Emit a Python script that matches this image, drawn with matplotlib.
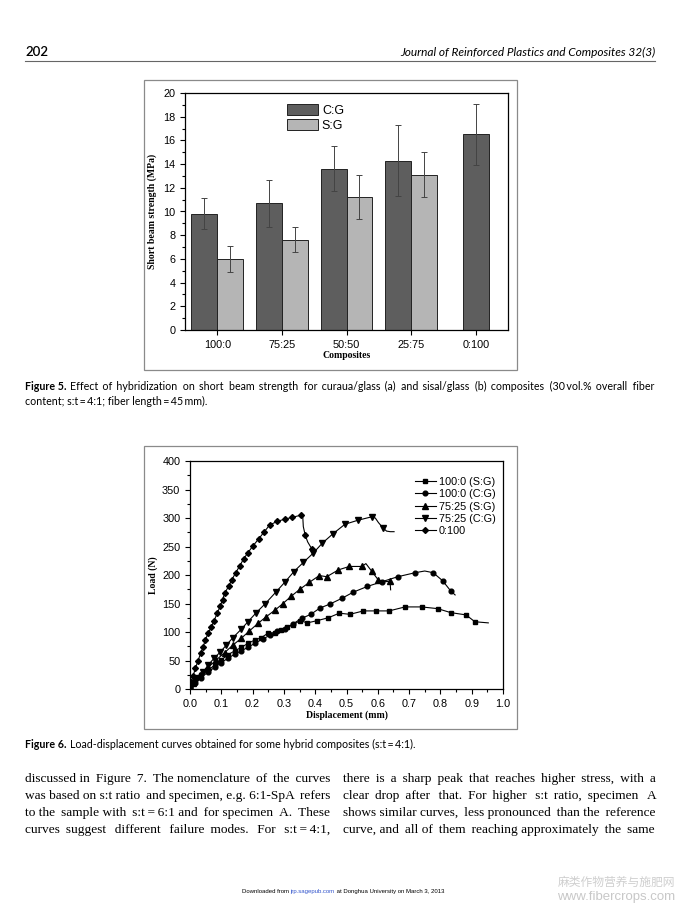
import matplotlib
matplotlib.use("Agg")
import matplotlib.pyplot as plt
from matplotlib.ticker import MultipleLocator
from matplotlib.patches import Rectangle

W, H = 678, 905

# Figure 5: short beam strength
composites = ["100:0", "75:25", "50:50", "25:75", "0:100"]
cg_strength = [9.8, 10.7, 13.6, 14.3, 16.5]
cg_err = [1.3, 2.0, 1.9, 3.0, 2.6]
sg_strength = [6.0, 7.6, 11.2, 13.1]
sg_err = [1.1, 1.05, 1.85, 1.9]

# Figure 6: load-displacement curves (mk = 1 where a marker is drawn)
sg100_x = [0, 0.015, 0.036, 0.058, 0.079, 0.1, 0.121, 0.143, 0.164, 0.185, 0.207, 0.228, 0.249, 0.27, 0.29,
           0.31, 0.328, 0.351, 0.375, 0.407, 0.442, 0.477, 0.511, 0.554, 0.594, 0.636, 0.687, 0.74, 0.791,
           0.833, 0.882, 0.91, 0.953]
sg100_y = [0, 15, 25, 33, 42, 51, 60, 67, 73, 80, 86, 90, 98, 99, 103, 108, 112, 120, 116, 120, 125, 133, 131,
           137, 137, 137, 144, 144, 141, 134, 130, 118, 116]
sg100_mk = [1] * 32 + [0]

cg100_x = [0, 0.015, 0.036, 0.058, 0.079, 0.1, 0.121, 0.143, 0.164, 0.185, 0.207, 0.233, 0.255, 0.279, 0.302,
           0.328, 0.357, 0.386, 0.415, 0.447, 0.485, 0.522, 0.567, 0.612, 0.664, 0.719, 0.75, 0.777, 0.807,
           0.833, 0.847]
cg100_y = [0, 10, 20, 30, 38, 46, 54, 61, 67, 73, 80, 88, 94, 101, 105, 114, 124, 131, 142, 149, 159, 170, 180,
           188, 197, 204, 207, 204, 190, 172, 165]
cg100_mk = [1] * 26 + [0, 1, 1, 1, 0]

sg75_x = [0, 0.01, 0.031, 0.058, 0.084, 0.111, 0.137, 0.164, 0.19, 0.217, 0.244, 0.273, 0.297, 0.324, 0.351,
          0.381, 0.413, 0.437, 0.474, 0.509, 0.549, 0.562, 0.58, 0.602, 0.618, 0.639, 0.641]
sg75_y = [0, 10, 25, 38, 51, 64, 77, 89, 102, 115, 127, 139, 150, 163, 175, 187, 199, 197, 209, 215, 215, 220,
          207, 191, 188, 189, 174]
sg75_mk = [1] * 21 + [0, 1, 1, 0, 1, 0]

cg75_x = [0, 0.023, 0.042, 0.058, 0.077, 0.097, 0.116, 0.137, 0.164, 0.185, 0.212, 0.241, 0.276, 0.304, 0.332,
          0.362, 0.393, 0.423, 0.456, 0.495, 0.536, 0.58, 0.592, 0.602, 0.616, 0.628, 0.64, 0.652]
cg75_y = [0, 19, 30, 42, 54, 65, 77, 90, 105, 118, 134, 150, 171, 188, 206, 222, 238, 256, 272, 289, 296, 302,
          300, 292, 283, 277, 276, 276]
cg75_mk = [1] * 22 + [0, 0, 1, 0, 0, 0]

gl_x = [0, 0.004, 0.01, 0.017, 0.026, 0.034, 0.042, 0.049, 0.058, 0.068, 0.077, 0.087, 0.097, 0.104, 0.111,
        0.124, 0.134, 0.146, 0.159, 0.171, 0.185, 0.201, 0.219, 0.236, 0.255, 0.279, 0.302, 0.326, 0.354,
        0.36, 0.362, 0.368, 0.376, 0.39, 0.395]
gl_y = [0, 13, 23, 36, 50, 63, 74, 86, 98, 109, 120, 133, 146, 157, 168, 181, 192, 204, 216, 228, 239, 251, 263,
        275, 288, 294, 298, 301, 305, 305, 285, 270, 258, 245, 240]
gl_mk = [1] * 29 + [0, 0, 1, 0, 1, 0]

curves = [
    ("100:0 (S:G)", sg100_x, sg100_y, sg100_mk, "s", 3.0),
    ("100:0 (C:G)", cg100_x, cg100_y, cg100_mk, "o", 3.4),
    ("75:25 (S:G)", sg75_x, sg75_y, sg75_mk, "^", 3.8),
    ("75:25 (C:G)", cg75_x, cg75_y, cg75_mk, "v", 3.8),
    ("0:100", gl_x, gl_y, gl_mk, "D", 3.0),
]

# "~" marks a thin space that must not be stretched
body_left = [
    "discussed in Figure 7. The nomenclature of the curves",
    "was based on s:t ratio and specimen, e.g. 6:1-SpA refers",
    "to the sample with s:t~=~6:1 and for specimen A. These",
    "curves suggest different failure modes. For s:t~=~4:1,",
]
body_right = [
    "there is a sharp peak that reaches higher stress, with a",
    "clear drop after that. For higher s:t ratio, specimen A",
    "shows similar curves, less pronounced than the reference",
    "curve, and all of them reaching approximately the same",
]

fig = plt.figure(figsize=(W / 100, H / 100), dpi=100)
fig.patch.set_facecolor("white")
renderer = fig.canvas.get_renderer()
THIN = "\u2009"


def fy(y):
    return 1 - y / H


def width(t):
    return t.get_window_extent(renderer).width


def line_text(line, x0, y, x1=None, **kw):
    # one Text per line; justified by padding the word gaps with thin spaces
    words = [w.replace("~", THIN) for w in line.split()]
    t = fig.text(x0 / W, fy(y), " ".join(words), va="baseline", **kw)
    if x1 is None or len(words) < 2:
        return t
    a = fig.text(0, 0, "x" + THIN * 10 + "x", **kw)
    b = fig.text(0, 0, "xx", **kw)
    thin_w = (width(a) - width(b)) / 10
    a.remove()
    b.remove()
    n = len(words) - 1
    k = max(0, round((x1 - x0 - width(t)) / thin_w))
    s = words[0]
    for i, w in enumerate(words[1:]):
        s += " " + THIN * ((i + 1) * k // n - i * k // n) + w
    t.set_text(s)
    return t


def caption(label, rest, x0, y, x1=None, **kw):
    b = fig.text(x0 / W, fy(y), label, va="baseline", fontweight="bold", **kw)
    line_text(rest, x0 + width(b) + 4, y, x1=x1, **kw)


sans = "Lato"
serif = "Liberation Serif"

# page header
fig.text(25 / W, fy(56), "202", fontsize=9.5, family=sans, fontweight="semibold", va="baseline")
fig.text(655 / W, fy(56), "Journal of Reinforced Plastics and Composites 32(3)", fontsize=8.6,
         family=sans, style="italic", ha="right", va="baseline")
fig.add_artist(plt.Line2D([25 / W, 655 / W], [fy(61), fy(61)], color="#666666", lw=0.8))

# frames around the two figures
for top, bottom in [(80, 370), (446, 729)]:
    fig.add_artist(Rectangle((144 / W, fy(bottom)), (517 - 144) / W, (bottom - top) / H,
                             fill=False, edgecolor="#8a8a8a", lw=0.9, transform=fig.transFigure))

# ---- Figure 5 ----
ax = fig.add_axes([185 / W, fy(330), (508 - 185) / W, (330 - 93) / H])
pos = list(range(1, len(composites) + 1))
cg_pos = [p - 0.2 if i < len(sg_strength) else p for i, p in enumerate(pos)]
sg_pos = [p + 0.2 for p in pos[:len(sg_strength)]]
ax.bar(cg_pos, cg_strength, 0.4, color="#5e5e5e", edgecolor="#222222", lw=0.7, label="C:G")
ax.bar(sg_pos, sg_strength, 0.4, color="#b5b5b5", edgecolor="#222222", lw=0.7, label="S:G")
ax.errorbar(cg_pos, cg_strength, yerr=cg_err, fmt="none", ecolor="#444444", elinewidth=0.7, capsize=2.5,
            capthick=0.7)
ax.errorbar(sg_pos, sg_strength, yerr=sg_err, fmt="none", ecolor="#444444", elinewidth=0.7, capsize=2.5,
            capthick=0.7)
ax.set_xlim(0.5, 5.5)
ax.set_ylim(0, 20)
ax.set_xticks(pos)
ax.set_xticklabels(composites)
ax.yaxis.set_major_locator(MultipleLocator(2))
ax.yaxis.set_minor_locator(MultipleLocator(1))
ax.tick_params(which="both", direction="out", labelsize=7.8, width=0.8)
ax.tick_params(which="major", length=3.5)
ax.tick_params(which="minor", length=2)
for lab in ax.get_xticklabels() + ax.get_yticklabels():
    lab.set_family("Liberation Sans")
ax.set_ylabel("Short beam strength (MPa)", family=serif, fontweight="bold", fontsize=7, labelpad=4)
ax.set_xlabel("Composites", family=serif, fontweight="bold", fontsize=7, labelpad=1)
for s in ax.spines.values():
    s.set_linewidth(0.9)
ax.legend(loc="upper left", bbox_to_anchor=(0.3, 0.975), frameon=False, handlelength=2.5,
          handleheight=1.0, labelspacing=0.15, handletextpad=0.3, borderaxespad=0,
          prop={"family": "Liberation Sans", "size": 9})

# Figure 5 caption
caption("Figure 5.", "Effect of hybridization on short beam strength for curaua/glass (a) and sisal/glass (b) "
        "composites (30~vol.% overall fiber", 25, 390, x1=655, family=sans, fontsize=7.7)
line_text("content; s:t~=~4:1; fiber length~=~45~mm).", 25, 405, family=sans, fontsize=7.7)

# ---- Figure 6 ----
ax2 = fig.add_axes([190 / W, fy(689), 313 / W, 228 / H])
for name, xs, ys, mk, marker, ms in curves:
    ax2.plot(xs, ys, color="black", lw=0.8, marker=marker, ms=ms,
             markevery=[i for i, m in enumerate(mk) if m], label=name)
ax2.set_xlim(0, 1.0)
ax2.set_ylim(0, 400)
ax2.xaxis.set_major_locator(MultipleLocator(0.1))
ax2.xaxis.set_minor_locator(MultipleLocator(0.05))
ax2.yaxis.set_major_locator(MultipleLocator(50))
ax2.yaxis.set_minor_locator(MultipleLocator(25))
ax2.tick_params(which="both", direction="out", labelsize=7.8, width=0.8)
ax2.tick_params(which="major", length=3.5)
ax2.tick_params(which="minor", length=2)
for lab in ax2.get_xticklabels() + ax2.get_yticklabels():
    lab.set_family("Liberation Sans")
ax2.set_ylabel("Load (N)", family=serif, fontweight="bold", fontsize=7, labelpad=3)
ax2.set_xlabel("Displacement (mm)", family=serif, fontweight="bold", fontsize=7, labelpad=1)
for s in ax2.spines.values():
    s.set_linewidth(0.9)
ax2.legend(loc="upper right", bbox_to_anchor=(0.99, 0.95), frameon=False, handlelength=1.9,
           labelspacing=0.22, handletextpad=0.3, borderaxespad=0,
           prop={"family": "Liberation Sans", "size": 7.8})

# Figure 6 caption
caption("Figure 6.", "Load-displacement curves obtained for some hybrid composites (s:t~=~4:1).",
        25, 748, family=sans, fontsize=7.7)

# body text, two justified columns
for i, line in enumerate(body_left):
    line_text(line, 25, 782 + 17 * i, x1=330, family=serif, fontsize=9.6)
for i, line in enumerate(body_right):
    line_text(line, 343, 782 + 17 * i, x1=655, family=serif, fontsize=9.6)

# footer
foot = ["Downloaded from ", "jrp.sagepub.com", " at Donghua University on March 3, 2013"]
x = 242
for k, s in enumerate(foot):
    t = fig.text(x / W, fy(893), s, fontsize=4.3, family="Liberation Sans", va="baseline",
                 color="#3355cc" if k == 1 else "black")
    x += width(t)

# watermark
fig.text(675 / W, fy(882), "麻类作物营养与施肥网", family="Noto Sans CJK SC", fontsize=8.5, color="#cfcfcf",
         ha="right", va="center")
fig.text(675 / W, fy(897), "www.fibercrops.com", family="Liberation Sans", fontsize=9.5, color="#c8c8c8",
         ha="right", va="center")

fig.savefig("out.png", dpi=100)
